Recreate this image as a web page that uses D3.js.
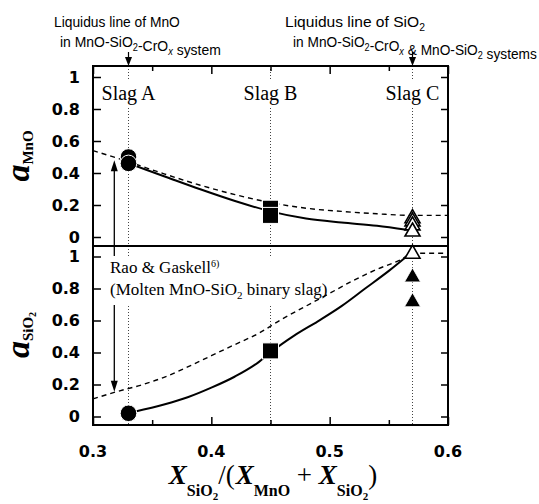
<!DOCTYPE html>
<html>
<head>
<meta charset="utf-8">
<script src="https://cdn.jsdelivr.net/npm/d3@7"></script>
<style>
  body { margin: 0; background: #fff; }
  svg { display: block; }
  .tick-label { font-family: "DejaVu Sans", sans-serif; font-weight: bold; font-size: 16px; }
  .serif { font-family: "Liberation Serif", "Times New Roman", serif; }
  .note { font-family: "Liberation Sans", Arial, sans-serif; font-size: 15px; }
</style>
</head>
<body>
<div class="chart"></div>
<script>
// axis ticks
const xTicks = [0.3, 0.4, 0.5, 0.6]
const xMinorTicks = [0.35, 0.45, 0.55]
const yTicks = [0, 0.2, 0.4, 0.6, 0.8, 1]

// slag compositions
const slagNames = ['Slag A', 'Slag B', 'Slag C']
const slagX = [0.33, 0.45, 0.57]

// upper panel: a_MnO
const mnoCircle = [0.50, 0.46]
const mnoSquare = [0.18, 0.135]
const mnoTriOpen = [0.13, 0.11, 0.085, 0.047]
const mnoCalc = [[0.33, 0.46], [0.36, 0.38], [0.39, 0.30], [0.42, 0.225], [0.45, 0.16],
                 [0.48, 0.115], [0.51, 0.09], [0.54, 0.07], [0.565, 0.045]]
const mnoRao = [[0.3, 0.54], [0.33, 0.47], [0.36, 0.395], [0.39, 0.325], [0.42, 0.265],
                [0.45, 0.215], [0.48, 0.18], [0.51, 0.16], [0.54, 0.145], [0.57, 0.135], [0.6, 0.135]]

// lower panel: a_SiO2
const sio2Circle = [0.02]
const sio2Square = [0.41]
const sio2TriOpen = [1.03]
const sio2TriFilled = [0.885, 0.73]
const sio2Calc = [[0.335, 0.03], [0.36, 0.075], [0.38, 0.12], [0.40, 0.18], [0.42, 0.25],
                  [0.44, 0.34], [0.45, 0.40], [0.47, 0.505], [0.49, 0.595], [0.51, 0.69],
                  [0.53, 0.80], [0.55, 0.91], [0.565, 1.0]]
const sio2Rao = [[0.3, 0.11], [0.32, 0.155], [0.34, 0.195], [0.36, 0.245], [0.38, 0.31],
                 [0.40, 0.38], [0.42, 0.45], [0.44, 0.52], [0.46, 0.61], [0.48, 0.69],
                 [0.50, 0.77], [0.52, 0.85], [0.54, 0.92], [0.56, 0.98], [0.57, 1.02], [0.6, 1.02]]

// Rao & Gaskell arrow
const raoArrowX = 0.318
const raoArrowUpper = 0.48
const raoArrowLower = 0.155

const svgWidth = 539
const svgHeight = 504
const frame = {left: 93, right: 448, top: 66, mid: 246, bottom: 425}

const svg = d3.select('.chart').append('svg')
    .attr('width', svgWidth)
    .attr('height', svgHeight)

const x = d3.scaleLinear().domain([0.3, 0.6]).range([frame.left, frame.right])
const yU = d3.scaleLinear().domain([0, 1]).range([237, 77])
const yL = d3.scaleLinear().domain([0, 1]).range([416.5, 256.5])

const lineU = d3.line().x(d => x(d[0])).y(d => yU(d[1])).curve(d3.curveMonotoneX)
const lineL = d3.line().x(d => x(d[0])).y(d => yL(d[1])).curve(d3.curveMonotoneX)

const triPath = (w, h) => `M0,${-h / 2}L${w / 2},${h / 2}L${-w / 2},${h / 2}Z`
const arrowHead = (w, h) => `M0,0L${w / 2},${h}L${-w / 2},${h}Z`

// dotted composition lines
svg.selectAll('.slagLine')
    .data(slagX)
    .join('line')
    .attr('class', 'slagLine')
    .attr('x1', d => x(d)).attr('x2', d => x(d))
    .attr('y1', frame.top).attr('y2', frame.bottom)
    .attr('stroke', '#444')
    .attr('stroke-width', 1)
    .attr('stroke-dasharray', '1,2')

// Rao & Gaskell arrow shaft
const ax = x(raoArrowX)
svg.append('line')
    .attr('x1', ax).attr('x2', ax)
    .attr('y1', yU(raoArrowUpper) + 8).attr('y2', yL(raoArrowLower) - 8)
    .attr('stroke', 'black').attr('stroke-width', 1.3)
svg.append('path')
    .attr('d', arrowHead(7, 11))
    .attr('transform', `translate(${ax},${yU(raoArrowUpper)})`)
svg.append('path')
    .attr('d', arrowHead(7, 11))
    .attr('transform', `translate(${ax},${yL(raoArrowLower)}) rotate(180)`)

// text groups with white backing
const bgLayer = svg.append('g')
const curveLayer = svg.append('g')
const markLayer = svg.append('g')
const textLayer = svg.append('g')

function backText(sel, pad) {
    const b = sel.node().getBBox()
    bgLayer.append('rect')
        .attr('x', b.x - pad).attr('y', b.y - 1)
        .attr('width', b.width + pad * 2).attr('height', b.height + 2)
        .attr('fill', 'white')
}

slagNames.forEach((name, i) => {
    const t = textLayer.append('text')
        .attr('class', 'serif')
        .attr('x', x(slagX[i]))
        .attr('y', 100)
        .attr('text-anchor', 'middle')
        .attr('font-size', 20)
        .text(name)
    backText(t, 1)
})

const rao = textLayer.append('g')
const rao1 = rao.append('text').attr('class', 'serif').attr('x', 110).attr('y', 273).attr('font-size', 17)
rao1.append('tspan').text('Rao & Gaskell')
rao1.append('tspan').attr('font-size', 10).attr('dy', -6).text('6)')
const rao2 = rao.append('text').attr('class', 'serif').attr('x', 110).attr('y', 295).attr('font-size', 17)
rao2.append('tspan').text('(Molten MnO-SiO')
rao2.append('tspan').attr('font-size', 11).attr('dy', 4).text('2')
rao2.append('tspan').attr('dy', -4).text(' binary slag)')
const rb = rao.node().getBBox()
bgLayer.append('rect')
    .attr('x', rb.x - 2).attr('y', rb.y - 2)
    .attr('width', 200).attr('height', rb.height + 6)
    .attr('fill', 'white')

// curves
curveLayer.append('path').attr('d', lineU(mnoCalc))
    .attr('fill', 'none').attr('stroke', 'black').attr('stroke-width', 2)
curveLayer.append('path').attr('d', lineU(mnoRao))
    .attr('fill', 'none').attr('stroke', 'black').attr('stroke-width', 1.4).attr('stroke-dasharray', '5,4')
curveLayer.append('path').attr('d', lineL(sio2Calc))
    .attr('fill', 'none').attr('stroke', 'black').attr('stroke-width', 2)
curveLayer.append('path').attr('d', lineL(sio2Rao))
    .attr('fill', 'none').attr('stroke', 'black').attr('stroke-width', 1.4).attr('stroke-dasharray', '5,4')

// markers
const circ = (vals, y, xv) => markLayer.selectAll(null).data(vals).join('circle')
    .attr('cx', x(xv)).attr('cy', d => y(d)).attr('r', 8.3)
    .attr('fill', 'black').attr('stroke', 'white').attr('stroke-width', 1)
const sq = (vals, y, xv) => markLayer.selectAll(null).data(vals).join('rect')
    .attr('x', x(xv) - 8).attr('y', d => y(d) - 8).attr('width', 16).attr('height', 16)
    .attr('fill', 'black').attr('stroke', 'white').attr('stroke-width', 1)
const tri = (vals, y, xv, filled) => markLayer.selectAll(null).data(vals).join('path')
    .attr('d', filled ? triPath(16, 14) : triPath(15, 13))
    .attr('transform', d => `translate(${x(xv)},${y(d)})`)
    .attr('fill', filled ? 'black' : 'white')
    .attr('stroke', filled ? 'white' : 'black')
    .attr('stroke-width', filled ? 0.8 : 1.6)

circ(mnoCircle, yU, slagX[0])
sq(mnoSquare, yU, slagX[1])
tri(mnoTriOpen, yU, slagX[2], false)
circ(sio2Circle, yL, slagX[0])
sq(sio2Square, yL, slagX[1])
tri(sio2TriFilled, yL, slagX[2], true)
tri(sio2TriOpen, yL, slagX[2], false)

// frame
svg.append('rect')
    .attr('x', frame.left).attr('y', frame.top)
    .attr('width', frame.right - frame.left).attr('height', frame.bottom - frame.top)
    .attr('fill', 'none').attr('stroke', 'black').attr('stroke-width', 2)
svg.append('line')
    .attr('x1', frame.left).attr('x2', frame.right)
    .attr('y1', frame.mid).attr('y2', frame.mid)
    .attr('stroke', 'black').attr('stroke-width', 2)

// y axes, ticks inward on both sides
;[yU, yL].forEach(y => {
    svg.append('g')
        .attr('transform', `translate(${frame.left},0)`)
        .call(d3.axisRight(y).tickValues(yTicks).tickSize(8).tickFormat(''))
        .call(g => g.select('.domain').remove())
        .call(g => g.selectAll('line').attr('stroke-width', 1.5))
    svg.append('g')
        .attr('transform', `translate(${frame.right},0)`)
        .call(d3.axisLeft(y).tickValues(yTicks).tickSize(7).tickFormat(''))
        .call(g => g.select('.domain').remove())
        .call(g => g.selectAll('line').attr('stroke-width', 1.5))
    svg.selectAll(null).data(yTicks).join('text')
        .attr('class', 'tick-label')
        .attr('x', 80).attr('y', d => y(d))
        .attr('dy', '0.36em')
        .attr('text-anchor', 'end')
        .text(d => d3.format('~g')(d))
})

// x ticks on top and bottom
;[[frame.bottom, d3.axisTop], [frame.top, d3.axisBottom]].forEach(([py, ax]) => {
    svg.append('g')
        .attr('transform', `translate(0,${py})`)
        .call(ax(x).tickValues(xTicks).tickSize(8).tickFormat(''))
        .call(g => g.select('.domain').remove())
        .call(g => g.selectAll('line').attr('stroke-width', 1.5))
    svg.append('g')
        .attr('transform', `translate(0,${py})`)
        .call(ax(x).tickValues(xMinorTicks).tickSize(5).tickFormat(''))
        .call(g => g.select('.domain').remove())
        .call(g => g.selectAll('line').attr('stroke-width', 1.5))
})
svg.selectAll(null).data(xTicks).join('text')
    .attr('class', 'tick-label')
    .attr('x', d => x(d)).attr('y', 457)
    .attr('text-anchor', 'middle')
    .text(d => d3.format('.1f')(d))

// axis titles
const xt = svg.append('text').attr('class', 'serif')
    .attr('x', 273).attr('y', 484).attr('text-anchor', 'middle').attr('font-size', 27)
const bx = (s) => xt.append('tspan').attr('font-weight', 'bold').attr('font-style', 'italic').text(s)
const sub = (s, dy) => xt.append('tspan').attr('font-weight', 'bold').attr('font-size', 16).attr('dy', dy).text(s)
bx('X')
sub('SiO', 12)
sub('2', 4).attr('font-size', 11)
xt.append('tspan').attr('dy', -16).text('/(')
bx('X').attr('dx', 1)
sub('MnO', 12)
xt.append('tspan').attr('dy', -12).text(' + ')
bx('X')
sub('SiO', 12)
sub('2', 4).attr('font-size', 11)
xt.append('tspan').attr('dy', -16).text(')')

function yTitle(cy, subText, subSub) {
    const t = svg.append('text').attr('class', 'serif')
        .attr('transform', `translate(29,${cy}) rotate(-90)`)
        .attr('text-anchor', 'middle')
    t.append('tspan').attr('font-size', 34).attr('font-weight', 'bold').attr('font-style', 'italic').text('a')
    t.append('tspan').attr('font-size', 15).attr('font-weight', 'bold').attr('dy', 4).text(subText)
    if (subSub) t.append('tspan').attr('font-size', 10).attr('font-weight', 'bold').attr('dy', 3).text(subSub)
}
yTitle(156, 'MnO')
yTitle(335, 'SiO', '2')

// top notes, squeezed to the width they take in the figure
function note(xp, yp, width) {
    const t = svg.append('text').attr('class', 'note')
    t.fit = () => {
        const w = t.node().getComputedTextLength()
        t.attr('transform', `translate(${xp},${yp}) scale(${width / w},1)`)
    }
    return t
}
function subParts(t, parts) {
    parts.forEach(([s, kind]) => {
        const sp = t.append('tspan').text(s)
        if (kind) sp.attr('font-size', 10).attr('dy', 4)
        if (kind === 'i') sp.attr('font-style', 'italic')
        if (kind) t.append('tspan').attr('dy', -4).text('')
    })
}
const n1 = note(54, 27, 126)
n1.append('tspan').text('Liquidus line of MnO')
const n2 = note(60, 47, 161)
subParts(n2, [['in MnO-SiO'], ['2', 's'], ['-CrO'], ['x', 'i'], [' system']])
const n3 = note(285, 27, 140)
subParts(n3, [['Liquidus line of SiO'], ['2', 's']])
const n4 = note(293, 47, 244)
subParts(n4, [['in MnO-SiO'], ['2', 's'], ['-CrO'], ['x', 'i'], [' & MnO-SiO'], ['2', 's'], [' systems']])
;[n1, n2, n3, n4].forEach(t => t.fit())

// liquidus arrows
;[slagX[0], slagX[2]].forEach(v => {
    svg.append('line')
        .attr('x1', x(v)).attr('x2', x(v))
        .attr('y1', 52).attr('y2', 60)
        .attr('stroke', 'black').attr('stroke-width', 1.2)
    svg.append('path')
        .attr('d', arrowHead(7, 9))
        .attr('transform', `translate(${x(v)},${frame.top}) rotate(180)`)
})
</script>
</body>
</html>
